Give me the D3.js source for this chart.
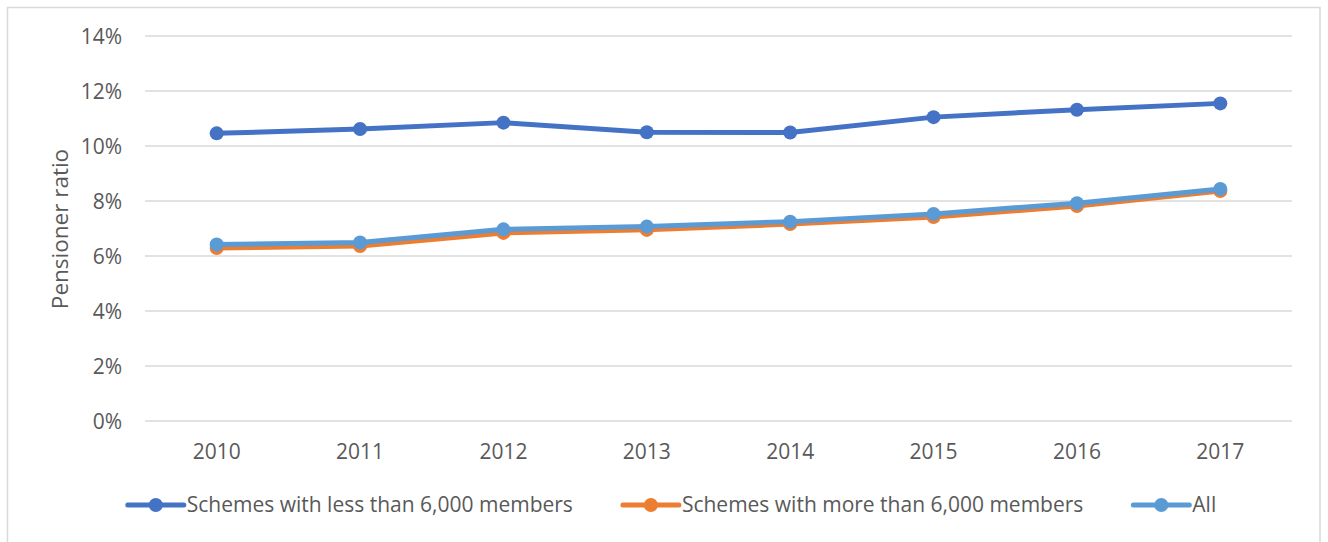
<!DOCTYPE html>
<html>
<head>
<meta charset="utf-8">
<script src="https://cdn.jsdelivr.net/npm/d3@7"></script>
<style>
  html, body { margin: 0; padding: 0; background: #fff; }
  svg { display: block; }
  text { font-family: "Open Sans", "Noto Sans", sans-serif; fill: #595959; }
</style>
</head>
<body>
<svg id="chart" width="1328" height="542"></svg>
<script>
// Pensioner ratio by year, three scheme groupings
const years = ["2010", "2011", "2012", "2013", "2014", "2015", "2016", "2017"];
const smallSchemes = [0.1046, 0.1062, 0.1085, 0.1050, 0.1049, 0.1105, 0.1132, 0.1155];
const largeSchemes = [0.0629, 0.0636, 0.0684, 0.0695, 0.0716, 0.0742, 0.0782, 0.0836];
const allSchemes   = [0.0642, 0.0649, 0.0697, 0.0707, 0.0725, 0.0753, 0.0792, 0.0844];
const yTicks = [0, 0.02, 0.04, 0.06, 0.08, 0.10, 0.12, 0.14];
const seriesNames = [
  "Schemes with less than 6,000 members",
  "Schemes with more than 6,000 members",
  "All"
];
const seriesColors = ["#4472C4", "#ED7D31", "#5B9BD5"];

const series = [smallSchemes, largeSchemes, allSchemes].map((vals, i) => ({
  name: seriesNames[i],
  color: seriesColors[i],
  points: years.map((y, j) => ({ year: y, value: vals[j] }))
}));

const svg = d3.select("#chart");
const fontSize = "21px";

// Outer chart frame
svg.append("rect")
  .attr("x", 7.5).attr("y", 7.5)
  .attr("width", 1312.5).attr("height", 545)
  .attr("fill", "#fff")
  .attr("stroke", "#d9d9d9").attr("stroke-width", 1.5);

const plot = { left: 145, right: 1292, top: 36, bottom: 421 };

const x = d3.scaleBand().domain(years).range([plot.left, plot.right]);
const y = d3.scaleLinear().domain([0, 0.14]).range([plot.bottom, plot.top]);

// Horizontal gridlines
svg.append("g")
  .selectAll("line")
  .data(yTicks)
  .join("line")
  .attr("x1", plot.left).attr("x2", plot.right)
  .attr("y1", d => y(d)).attr("y2", d => y(d))
  .attr("stroke", "#d9d9d9").attr("stroke-width", 1.5);

// Y axis labels
const yAxis = d3.axisLeft(y).tickValues(yTicks).tickFormat(d3.format(".0%")).tickSize(0).tickPadding(0);
const gy = svg.append("g").attr("transform", `translate(${122},0)`).call(yAxis);
gy.select(".domain").remove();
gy.selectAll("text")
  .style("font-family", "'Open Sans', sans-serif")
  .style("font-size", fontSize)
  .attr("fill", "#595959")
  .attr("dy", "0.35em");

// X axis labels
const xAxis = d3.axisBottom(x).tickSize(0).tickPadding(0);
const gx = svg.append("g").attr("transform", `translate(0,${452})`).call(xAxis);
gx.select(".domain").remove();
gx.selectAll("text")
  .style("font-family", "'Open Sans', sans-serif")
  .style("font-size", fontSize)
  .attr("fill", "#595959")
  .attr("dy", "0.35em");

// Y axis title
svg.append("text")
  .attr("transform", `translate(${60},${229}) rotate(-90)`)
  .attr("text-anchor", "middle")
  .attr("dy", "0.35em")
  .style("font-size", "22.5px")
  .text("Pensioner ratio");

// Lines and markers
const line = d3.line()
  .x(d => x(d.year) + x.bandwidth() / 2)
  .y(d => y(d.value));

series.forEach(s => {
  const g = svg.append("g");
  g.append("path")
    .datum(s.points)
    .attr("d", line)
    .attr("fill", "none")
    .attr("stroke", s.color)
    .attr("stroke-width", 5)
    .attr("stroke-linejoin", "round")
    .attr("stroke-linecap", "round");
  g.selectAll("circle")
    .data(s.points)
    .join("circle")
    .attr("cx", d => x(d.year) + x.bandwidth() / 2)
    .attr("cy", d => y(d.value))
    .attr("r", 7)
    .attr("fill", s.color);
});

// Legend
const legendY = 505;
const swatchW = 56, swatchGap = 3, itemGap = 50;
const legend = svg.append("g");
const items = legend.selectAll("g").data(series).join("g");
items.append("line")
  .attr("x1", 0).attr("x2", swatchW)
  .attr("y1", 0).attr("y2", 0)
  .attr("stroke", d => d.color).attr("stroke-width", 5)
  .attr("stroke-linecap", "round");
items.append("circle")
  .attr("cx", swatchW / 2).attr("cy", 0).attr("r", 7)
  .attr("fill", d => d.color);
items.append("text")
  .attr("x", swatchW + swatchGap)
  .attr("dy", "0.35em")
  .style("font-size", fontSize)
  .text(d => d.name);

const widths = [];
items.each(function () { widths.push(this.getBBox().width); });
const total = d3.sum(widths) + itemGap * (widths.length - 1);
let cursor = 672 - total / 2;
items.attr("transform", (d, i) => {
  const t = `translate(${cursor},${legendY})`;
  cursor += widths[i] + itemGap;
  return t;
});
</script>
</body>
</html>
